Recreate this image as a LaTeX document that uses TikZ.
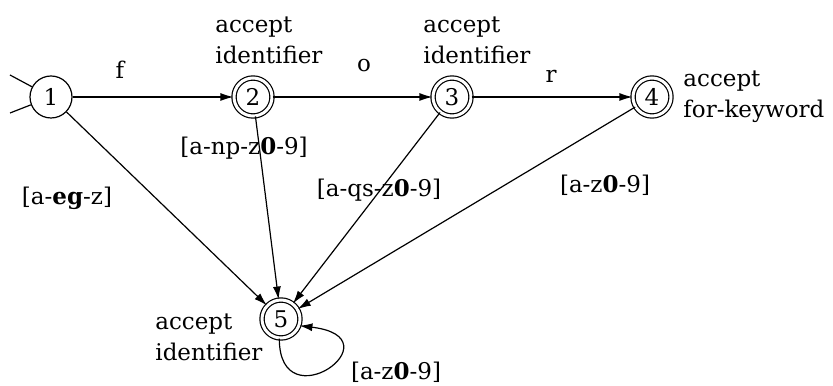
\documentclass[tikz,border=0pt]{standalone}
\usepackage{fontspec}
\setmainfont{DejaVu Serif}
\usetikzlibrary{arrows.meta, positioning}

\begin{document}
\begin{tikzpicture}[
  x=0.5pt, y=0.5pt,
  >={Latex[length=6.5pt,width=4pt]},
  font=\fontsize{11.5}{15.5}\selectfont,
  state/.style={circle, draw, line width=0.6pt, minimum size=21pt, inner sep=0pt},
  accepting/.style={state, double, double distance=1.5pt, minimum size=19pt},
  trans/.style={->, line width=0.6pt},
  tag/.style={align=left, inner sep=0pt, anchor=west},
  sym/.style={inner sep=0pt}
]
\useasboundingbox (0,0) rectangle (833,385);

%% ── Etats ───────────────────────────────────────────────────────────
\node[state]     (n1) at (51,288)  {1};
\node[accepting] (n2) at (253,288) {2};
\node[accepting] (n3) at (452,288) {3};
\node[accepting] (n4) at (652,288) {4};
\node[accepting] (n5) at (281,66)  {5};

%% ── Marque de l'etat initial ───────────────────────────────────────
\coordinate (s1) at (10,310);
\coordinate (s2) at (10,272);
\draw[line width=0.6pt] (s1) -- (n1);
\draw[line width=0.6pt] (s2) -- (n1);

%% ── Textes d'acceptation ────────────────────────────────────────────
\node[tag] (t2) at (215,345) {accept\\identifier};
\node[tag] (t3) at (423,345) {accept\\identifier};
\node[tag] (t4) at (683,288) {accept\\for-keyword};
\node[tag] (t5) at (155,48)  {accept\\identifier};

%% ── Transitions ─────────────────────────────────────────────────────
\draw[trans] (n1) -- (n2);
\draw[trans] (n2) -- (n3);
\draw[trans] (n3) -- (n4);
\draw[trans] (n1) -- (n5);
\draw[trans] (n2) -- (n5);
\draw[trans] (n3) -- (n5);
\draw[trans] (n4) -- (n5);
\draw[trans] (n5.-95) .. controls +(0,-85) and +(100,-12) .. (n5.-20);

%% ── Etiquettes des transitions ──────────────────────────────────────
\node[sym] (lf)  at (120,315) {f};
\node[sym] (lo)  at (364,319) {o};
\node[sym] (lr)  at (551,309) {r};
\node[sym] (l25) at (244,237) {[a-np-z\textbf{0}-9]};
\node[sym] (l15) at (67,187)  {[a-\textbf{eg}-z]};
\node[sym] (l35) at (379,195) {[a-qs-z\textbf{0}-9]};
\node[sym] (l45) at (605,200) {[a-z\textbf{0}-9]};
\node[sym] (l55) at (396,13)  {[a-z\textbf{0}-9]};

\end{tikzpicture}
\end{document}
